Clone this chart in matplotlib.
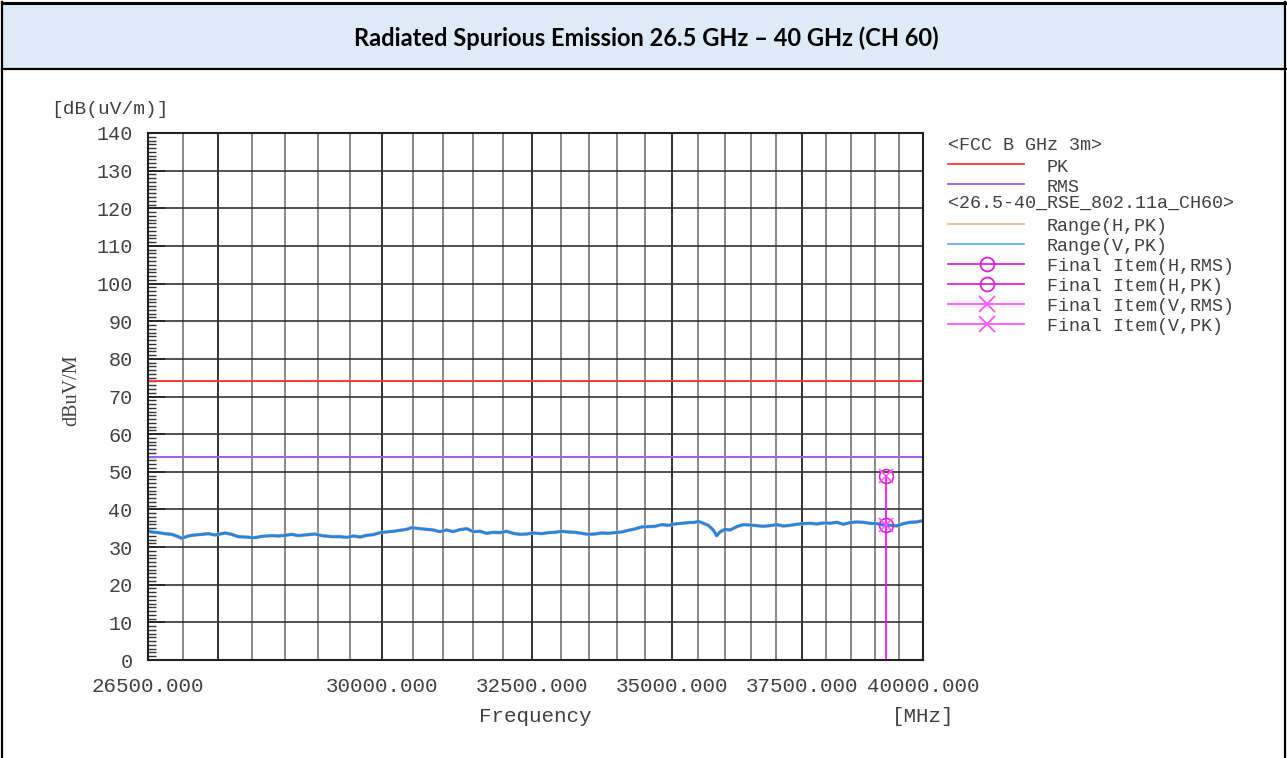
import numpy as np
import matplotlib
matplotlib.use("Agg")
import matplotlib.pyplot as plt
from matplotlib.lines import Line2D
from matplotlib.patches import Rectangle
from matplotlib.ticker import FixedLocator, NullFormatter, MultipleLocator

# ---------------- data ----------------
title = "Radiated Spurious Emission 26.5 GHz \u2013 40 GHz (CH 60)"
x_ticks = [26500, 30000, 32500, 35000, 37500, 40000]
x_ticklabels = ["26500.000", "30000.000", "32500.000", "35000.000", "37500.000", "40000.000"]
y_ticks = list(range(0, 141, 10))

limit_pk = 74.0
limit_rms = 54.0

freq_mhz = [
    26500, 26552, 26645, 26740, 26836, 26930, 26979, 27073, 27170, 27267, 27363, 27461,
    27607, 27705, 27802, 27901, 28050, 28150, 28300, 28400, 28501, 28603, 28703, 28856,
    28959, 29062, 29217, 29346, 29451, 29554, 29660, 29765, 29870, 29976, 30083, 30189,
    30296, 30404, 30485, 30620, 30729, 30837, 30947, 31057, 31166, 31277, 31389, 31499,
    31611, 31724, 31835, 31949, 32063, 32175, 32290, 32405, 32519, 32664, 32779, 32896,
    33013, 33129, 33247, 33366, 33483, 33603, 33722, 33841, 33962, 34083, 34202, 34324,
    34447, 34568, 34691, 34815, 34937, 35062, 35187, 35310, 35436, 35498, 35562, 35687,
    35782, 35847, 35910, 36006, 36102, 36198, 36231, 36358, 36488, 36618, 36746, 36877,
    37009, 37139, 37271, 37404, 37536, 37670, 37804, 37937, 38072, 38208, 38342, 38479,
    38616, 38751, 38889, 39028, 39165, 39305, 39445, 39584, 39725, 39866, 40000,
]
level_v_pk = [
    34.27, 34.01, 33.83, 33.56, 33.38, 32.76, 32.32, 32.94, 33.21, 33.38, 33.56, 33.21,
    33.74, 33.38, 32.76, 32.67, 32.49, 32.85, 33.03, 32.94, 33.12, 33.38, 33.03, 33.30,
    33.47, 33.03, 32.76, 32.76, 32.58, 32.94, 32.67, 33.12, 33.30, 33.83, 34.01, 34.19,
    34.45, 34.72, 35.16, 34.89, 34.72, 34.54, 34.10, 34.54, 34.10, 34.63, 34.89, 34.10,
    34.19, 33.65, 33.92, 33.83, 34.19, 33.65, 33.38, 33.47, 33.74, 33.56, 33.83, 33.92,
    34.19, 34.01, 33.92, 33.65, 33.38, 33.47, 33.74, 33.65, 33.83, 34.01, 34.45, 34.81,
    35.34, 35.43, 35.52, 35.96, 35.78, 36.14, 36.32, 36.49, 36.58, 36.85, 36.49, 35.78,
    34.54, 33.03, 34.01, 34.72, 34.54, 35.16, 35.43, 35.96, 35.87, 35.69, 35.52, 35.69,
    35.96, 35.60, 35.78, 36.05, 36.23, 36.32, 36.14, 36.40, 36.32, 36.58, 36.05, 36.49,
    36.67, 36.58, 36.32, 36.23, 35.87, 35.78, 35.60, 36.23, 36.58, 36.67, 37.02,
]
level_h_pk = level_v_pk  # horizontal trace is hidden under the vertical trace

final_freq = [39225]
final_h_pk = [48.9]
final_h_rms = [35.9]
final_v_pk = [48.9]
final_v_rms = [35.9]

legend_group1 = "<FCC B GHz 3m>"
legend_group2 = "<26.5-40_RSE_802.11a_CH60>"
legend_items1 = ["PK", "RMS"]
legend_items2 = ["Range(H,PK)", "Range(V,PK)", "Final Item(H,RMS)",
                 "Final Item(H,PK)", "Final Item(V,RMS)", "Final Item(V,PK)"]

# ---------------- style ----------------
W, H = 1287, 758
C_PK = "#f23a3a"
C_RMS = "#a45af0"
C_HPK = "#f7b08e"
C_VPK = "#1e88e8"
C_FH = "#dd22dd"
C_FV = "#ff55ff"
TXT = "#404040"
MONO = "Liberation Mono"

fig = plt.figure(figsize=(W / 100, H / 100), dpi=100)
fig.patch.set_facecolor("white")

# overlay in pixel coordinates for table frame and legend
ov = fig.add_axes([0, 0, 1, 1], zorder=0)
ov.set_xlim(0, W)
ov.set_ylim(H, 0)
ov.axis("off")
ov.add_patch(Rectangle((2, 3), W - 4, 66, facecolor="#deeaf6", edgecolor="none"))
ov.plot([1.5, W - 1.5], [3, 3], color="black", lw=2.2)
ov.plot([1.5, W - 1.5], [69, 69], color="black", lw=1.6)
ov.plot([2, 2], [2, H], color="black", lw=1.6)
ov.plot([W - 2.5, W - 2.5], [2, H], color="black", lw=1.6)
ov.text(W / 2 + 3, 38, title, ha="center", va="center", fontsize=17,
        fontweight="bold", family=["Lato", "DejaVu Sans"], color="black")

# main axes
L, R, T, B = 148, 923, 133, 660
ax = fig.add_axes([L / W, (H - B) / H, (R - L) / W, (B - T) / H], zorder=2)
ax.set_xscale("log")
ax.set_xlim(26500, 40000)
ax.set_ylim(0, 140)

# grid
minor_x = [f for f in range(27000, 40000, 500) if f % 2500 != 0]
major_x = [27500, 30000, 32500, 35000, 37500]
for f in minor_x:
    ax.axvline(f, color="#6a6a6a", lw=1.1, zorder=1)
for f in major_x:
    ax.axvline(f, color="#222222", lw=1.3, zorder=1)
for v in y_ticks[1:-1]:
    ax.axhline(v, color="#333333", lw=1.2, zorder=1)

ax.xaxis.set_major_locator(FixedLocator(x_ticks))
ax.xaxis.set_minor_locator(FixedLocator([]))
ax.set_xticklabels(x_ticklabels)
ax.xaxis.set_minor_formatter(NullFormatter())
ax.tick_params(axis="x", which="both", length=0, pad=12, labelsize=15, labelcolor=TXT)
for lab in ax.get_xticklabels():
    lab.set_family(MONO)

ax.yaxis.set_major_locator(FixedLocator(y_ticks))
ax.yaxis.set_minor_locator(MultipleLocator(1))
ax.tick_params(axis="y", which="major", direction="in", length=12, width=1.2,
               pad=11, labelsize=14.5, labelcolor=TXT, color="#222222")
ax.tick_params(axis="y", which="minor", direction="in", length=6, width=1.0, color="#333333")
for lab in ax.get_yticklabels():
    lab.set_family(MONO)

for s in ax.spines.values():
    s.set_color("#222222")
    s.set_linewidth(1.5)
    s.set_zorder(5)

# limits
ax.axhline(limit_pk, color=C_PK, lw=1.4, zorder=3)
ax.axhline(limit_rms, color=C_RMS, lw=1.4, zorder=3)

# traces
ax.plot(freq_mhz, level_h_pk, color=C_HPK, lw=2.6, zorder=3)
ax.plot(freq_mhz, level_v_pk, color=C_VPK, lw=2.0, zorder=4)

# final items
ax.vlines(final_freq, 0, max(final_h_pk + final_v_pk), color="#ff00ff", lw=1.2, zorder=5)
ax.plot(final_freq, final_h_rms, ls="none", marker="o", ms=10, mfc="none", mec=C_FH, mew=1.2, zorder=6)
ax.plot(final_freq, final_h_pk, ls="none", marker="o", ms=10, mfc="none", mec=C_FH, mew=1.2, zorder=6)
ax.plot(final_freq, final_v_rms, ls="none", marker="x", ms=10, mec=C_FV, mew=1.2, zorder=6)
ax.plot(final_freq, final_v_pk, ls="none", marker="x", ms=10, mec=C_FV, mew=1.2, zorder=6)

# axis texts
ov.text(110, 110, "[dB(uV/m)]", ha="center", va="center", fontsize=14, family=MONO, color=TXT)
ov.text(72, 390, "dBuV/M", ha="center", va="center", rotation=90, fontsize=14.5,
        family="Liberation Serif", color=TXT)
ov.text(535, 717, "Frequency", ha="center", va="center", fontsize=15, family=MONO, color=TXT)
ov.text(923, 717, "[MHz]", ha="center", va="center", fontsize=15, family=MONO, color=TXT)

# legend (pixel layout)
LX0, LX1, LTX = 948, 1024, 1047
LFS = 13.2
ov.text(LX0, 145, legend_group1, ha="left", va="center", fontsize=LFS, family=MONO, color=TXT)
rows1 = [(163.5, C_PK, None), (183.5, C_RMS, None)]
for (yy, c, m), lab in zip(rows1, legend_items1):
    ov.add_line(Line2D([LX0, LX1], [yy, yy], color=c, lw=1.3))
    ov.text(LTX, yy + 3.5, lab, ha="left", va="center", fontsize=LFS, family=MONO, color=TXT)
ov.text(LX0, 203.5, legend_group2, ha="left", va="center", fontsize=LFS, family=MONO, color=TXT)
rows2 = [(223.5, C_HPK, None), (243.5, C_VPK, None), (263.5, C_FH, "o"),
         (283.5, C_FH, "o"), (303.5, C_FV, "x"), (323.5, C_FV, "x")]
for (yy, c, m), lab in zip(rows2, legend_items2):
    ov.add_line(Line2D([LX0, LX1], [yy, yy], color=c if c != C_VPK else "#6aaef0", lw=1.3))
    if m is not None:
        ov.add_line(Line2D([(LX0 + LX1) / 2 + 1], [yy], ls="none", marker=m, ms=10 if m == "o" else 11,
                           mfc="none", mec=c, mew=1.3))
    ov.text(LTX, yy + 3, lab, ha="left", va="center", fontsize=LFS, family=MONO, color=TXT)

fig.savefig("out.png", dpi=100)
